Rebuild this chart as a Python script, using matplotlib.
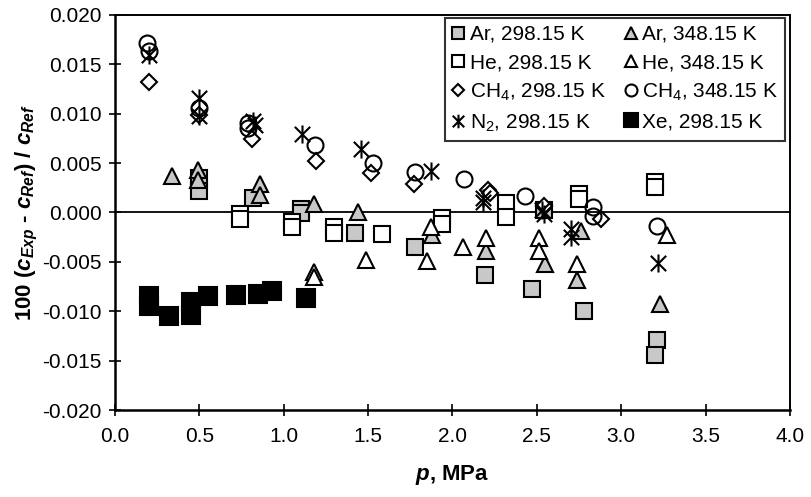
import matplotlib
matplotlib.use("Agg")
import matplotlib.pyplot as plt
from matplotlib.path import Path

plt.rcParams['font.family'] = ['Liberation Sans', 'DejaVu Sans']
plt.rcParams['mathtext.fontset'] = 'custom'
plt.rcParams['mathtext.it'] = 'Liberation Sans:italic:bold'
plt.rcParams['mathtext.rm'] = 'Liberation Sans:bold'
plt.rcParams['mathtext.bf'] = 'Liberation Sans:bold'

# ---- data (p in MPa, deviation) ----
ar298_p = [0.50, 0.50, 0.82, 1.10, 1.10, 1.42, 1.78, 2.19, 2.47, 2.54, 2.78, 3.21, 3.20]
ar298_d = [0.0035, 0.0022, 0.0015, 0.0004, -0.0001, -0.0021, -0.0035, -0.0063, -0.0077, 0.0003, -0.0100, -0.0129, -0.0144]

he298_p = [0.74, 0.74, 1.05, 1.05, 1.30, 1.30, 1.58, 1.94, 1.94, 2.32, 2.32, 2.75, 2.75, 3.20, 3.20]
he298_d = [-0.0002, -0.0007, -0.0010, -0.0015, -0.0015, -0.0021, -0.0022, -0.0006, -0.0012, 0.0010, -0.0005, 0.0019, 0.0014, 0.0031, 0.0026]

ar348_p = [0.34, 0.49, 0.49, 0.86, 0.86, 1.18, 1.44, 1.88, 2.20, 2.55, 2.74, 2.76, 3.23]
ar348_d = [0.0037, 0.0043, 0.0033, 0.0029, 0.0018, 0.0009, 0.0000, -0.0023, -0.0039, -0.0052, -0.0068, -0.0019, -0.0093]

he348_p = [1.18, 1.18, 1.49, 1.87, 1.85, 2.06, 2.20, 2.51, 2.51, 2.74, 3.27]
he348_d = [-0.0060, -0.0065, -0.0048, -0.0015, -0.0049, -0.0035, -0.0026, -0.0026, -0.0039, -0.0052, -0.0023]

ch4_298_p = [0.20, 0.50, 0.81, 1.19, 1.52, 1.77, 2.21, 2.22, 2.54, 2.88]
ch4_298_d = [0.0132, 0.0099, 0.0074, 0.0052, 0.0040, 0.0029, 0.0023, 0.0020, 0.0007, -0.0007]

ch4_348_p = [0.19, 0.20, 0.50, 0.79, 0.79, 1.185, 1.53, 1.78, 2.07, 2.43, 2.83, 2.83, 3.21]
ch4_348_d = [0.0172, 0.0163, 0.0106, 0.0091, 0.0086, 0.0068, 0.0050, 0.0041, 0.0034, 0.0017, 0.0006, -0.0004, -0.0014]

n2_p = [0.20, 0.50, 0.50, 0.82, 0.83, 1.11, 1.46, 1.87, 2.18, 2.18, 2.53, 2.54, 2.70, 2.70, 3.22]
n2_d = [0.0159, 0.0116, 0.0098, 0.0093, 0.0089, 0.0079, 0.0064, 0.0042, 0.0015, 0.0011, 0.0002, -0.0002, -0.0017, -0.0025, -0.0051]

xe_p = [0.20, 0.20, 0.32, 0.45, 0.45, 0.55, 0.72, 0.85, 0.93, 1.13]
xe_d = [-0.0085, -0.0095, -0.0105, -0.0091, -0.0104, -0.0085, -0.0084, -0.0083, -0.0080, -0.0087]

labels = ['Ar, 298.15 K', 'He, 298.15 K', r'CH$\mathregular{_4}$, 298.15 K', r'N$\mathregular{_2}$, 298.15 K',
          'Ar, 348.15 K', 'He, 348.15 K', r'CH$\mathregular{_4}$, 348.15 K', 'Xe, 298.15 K']

x_ticks = [0.0, 0.5, 1.0, 1.5, 2.0, 2.5, 3.0, 3.5, 4.0]
y_ticks = [-0.020, -0.015, -0.010, -0.005, 0.000, 0.005, 0.010, 0.015, 0.020]

# ---- figure ----
fig = plt.figure(figsize=(8.12, 4.97), dpi=100)
ax = fig.add_axes([0.1416, 0.175, 0.8313, 0.795])

gray = '#c8c8c8'
ew = 1.5
star = Path([(0, -1), (0, 1), (-0.85, -0.85), (0.85, 0.85), (-0.85, 0.85), (0.85, -0.85)],
            [Path.MOVETO, Path.LINETO, Path.MOVETO, Path.LINETO, Path.MOVETO, Path.LINETO])

ax.axhline(0, color='black', lw=1.3, zorder=1)

h_ar298, = ax.plot(ar298_p, ar298_d, 's', ms=11.5, mfc=gray, mec='black', mew=ew, zorder=3)
h_he298, = ax.plot(he298_p, he298_d, 's', ms=11.5, mfc='white', mec='black', mew=ew, zorder=3)
h_ar348, = ax.plot(ar348_p, ar348_d, '^', ms=12, mfc=gray, mec='black', mew=ew, zorder=4)
h_he348, = ax.plot(he348_p, he348_d, '^', ms=12, mfc='white', mec='black', mew=ew, zorder=4)
h_xe, = ax.plot(xe_p, xe_d, 's', ms=12.5, mfc='black', mec='black', mew=ew, zorder=3)
h_ch4a, = ax.plot(ch4_298_p, ch4_298_d, 'D', ms=8.2, mfc='white', mec='black', mew=ew, zorder=5)
h_ch4b, = ax.plot(ch4_348_p, ch4_348_d, 'o', ms=11.5, mfc='none', mec='black', mew=ew, zorder=6)
h_n2, = ax.plot(n2_p, n2_d, marker=star, ls='none', ms=13, mec='black', mew=1.5, zorder=7)

handles = [h_ar298, h_he298, h_ch4a, h_n2, h_ar348, h_he348, h_ch4b, h_xe]
leg = ax.legend(handles, labels, ncol=2, loc='upper right', bbox_to_anchor=(0.993, 0.993),
                fontsize=15, frameon=True, fancybox=False, edgecolor='black',
                markerscale=0.75, handlelength=0.6, handletextpad=0.25, columnspacing=0.9,
                labelspacing=0.45, borderpad=0.35, borderaxespad=0.0)
leg.get_frame().set_linewidth(1.5)

ax.set_xlim(0, 4.0)
ax.set_ylim(-0.020, 0.020)
ax.set_xticks(x_ticks)
ax.set_xticklabels([f'{v:.1f}' for v in x_ticks])
ax.set_yticks(y_ticks)
ax.set_yticklabels([f'{v:.3f}' for v in y_ticks])
ax.tick_params(direction='inout', length=9, width=1.2, labelsize=15, pad=5)
ax.tick_params(axis='x', pad=8)

for s in ['left', 'bottom']:
    ax.spines[s].set_linewidth(1.8)
for s in ['top', 'right']:
    ax.spines[s].set_linewidth(1.4)

ax.set_xlabel(r'$p$, MPa', fontsize=16, fontweight='bold', labelpad=12)
ax.set_ylabel(r'100 ($c_{Exp}$ - $c_{Ref}$) / $c_{Ref}$', fontsize=16, fontweight='bold', labelpad=2)

fig.savefig('out.png', dpi=100)
